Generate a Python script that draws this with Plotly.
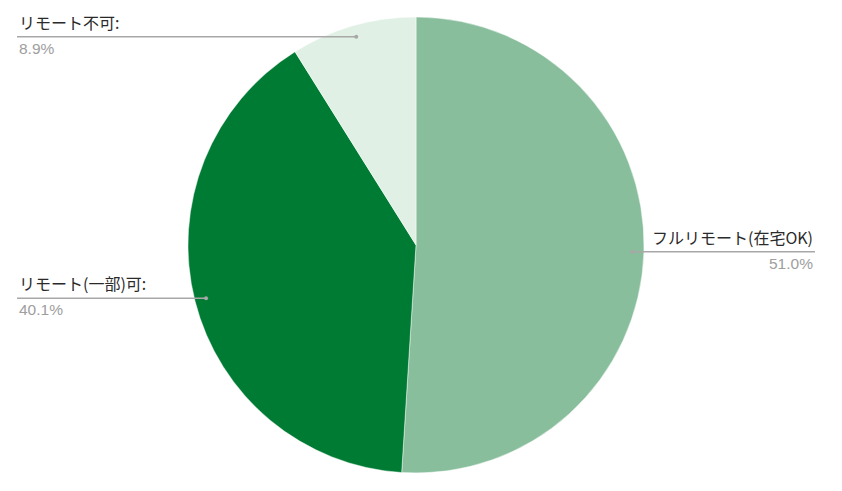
import math
import plotly.graph_objects as go

labels = ["フルリモート(在宅OK)", "リモート(一部)可", "リモート不可"]
values = [51.0, 40.1, 8.9]
colors = ["#88BE9C", "#007B33", "#E0F0E5"]

W, H = 842, 491
OFF = 8  # page body margin shifts the figure by 8px
cx, cy, R = 416 - OFF, 245 - OFF, 228

fig = go.Figure(go.Pie(
    labels=labels,
    values=values,
    sort=False,
    direction="clockwise",
    rotation=0,
    marker=dict(colors=colors, line=dict(color="rgba(255,255,255,0.6)", width=0.8)),
    textinfo="none",
    hoverinfo="label+percent",
    domain=dict(x=[(cx - R) / W, (cx + R) / W], y=[1 - (cy + R) / H, 1 - (cy - R) / H]),
))

# leader lines + labels, placed from each slice's middle angle
total = sum(values)
start = 0.0
for lab, v in zip(labels, values):
    mid = (start + v / 2) / total * 2 * math.pi
    start += v
    dx = cx + 0.95 * R * math.sin(mid)
    dy = cy - 0.95 * R * math.cos(mid)
    right = math.sin(mid) > 0
    ex = (815 if right else 17) - OFF
    pct = f"{v / total * 100:.1f}%"
    txt = lab if right else lab + ":"
    fig.add_shape(type="line", xref="paper", yref="paper",
                  x0=dx / W, x1=ex / W, y0=1 - dy / H, y1=1 - dy / H,
                  line=dict(color="#A8A8A8", width=1.5))
    fig.add_shape(type="circle", xref="paper", yref="paper",
                  x0=(dx - 2) / W, x1=(dx + 2) / W, y0=1 - (dy - 2) / H, y1=1 - (dy + 2) / H,
                  fillcolor="#A8A8A8", line_width=0)
    anchor = "right" if right else "left"
    fig.add_annotation(x=ex / W, y=1 - (dy - 1) / H, xref="paper", yref="paper",
                       text=txt, showarrow=False, xanchor=anchor, yanchor="bottom",
                       font=dict(size=16, color="#2A2A2A", family="Noto Sans CJK JP, Arial"))
    fig.add_annotation(x=ex / W, y=1 - (dy + 1) / H, xref="paper", yref="paper",
                       text=pct, showarrow=False, xanchor=anchor, yanchor="top",
                       font=dict(size=15.5, color="#9E9E9E", family="Arial, Liberation Sans"))

# faint dashed edge at the right side
fig.add_shape(type="line", xref="paper", yref="paper",
              x0=(840 - OFF) / W, x1=(840 - OFF) / W, y0=1 - (14 - OFF) / H, y1=0,
              line=dict(color="#CCCCCC", width=3, dash="1px,18px"))

fig.update_layout(
    width=W, height=H,
    margin=dict(l=0, r=0, t=0, b=0),
    showlegend=False,
    paper_bgcolor="white",
    plot_bgcolor="white",
)

fig.write_html("out.html")
